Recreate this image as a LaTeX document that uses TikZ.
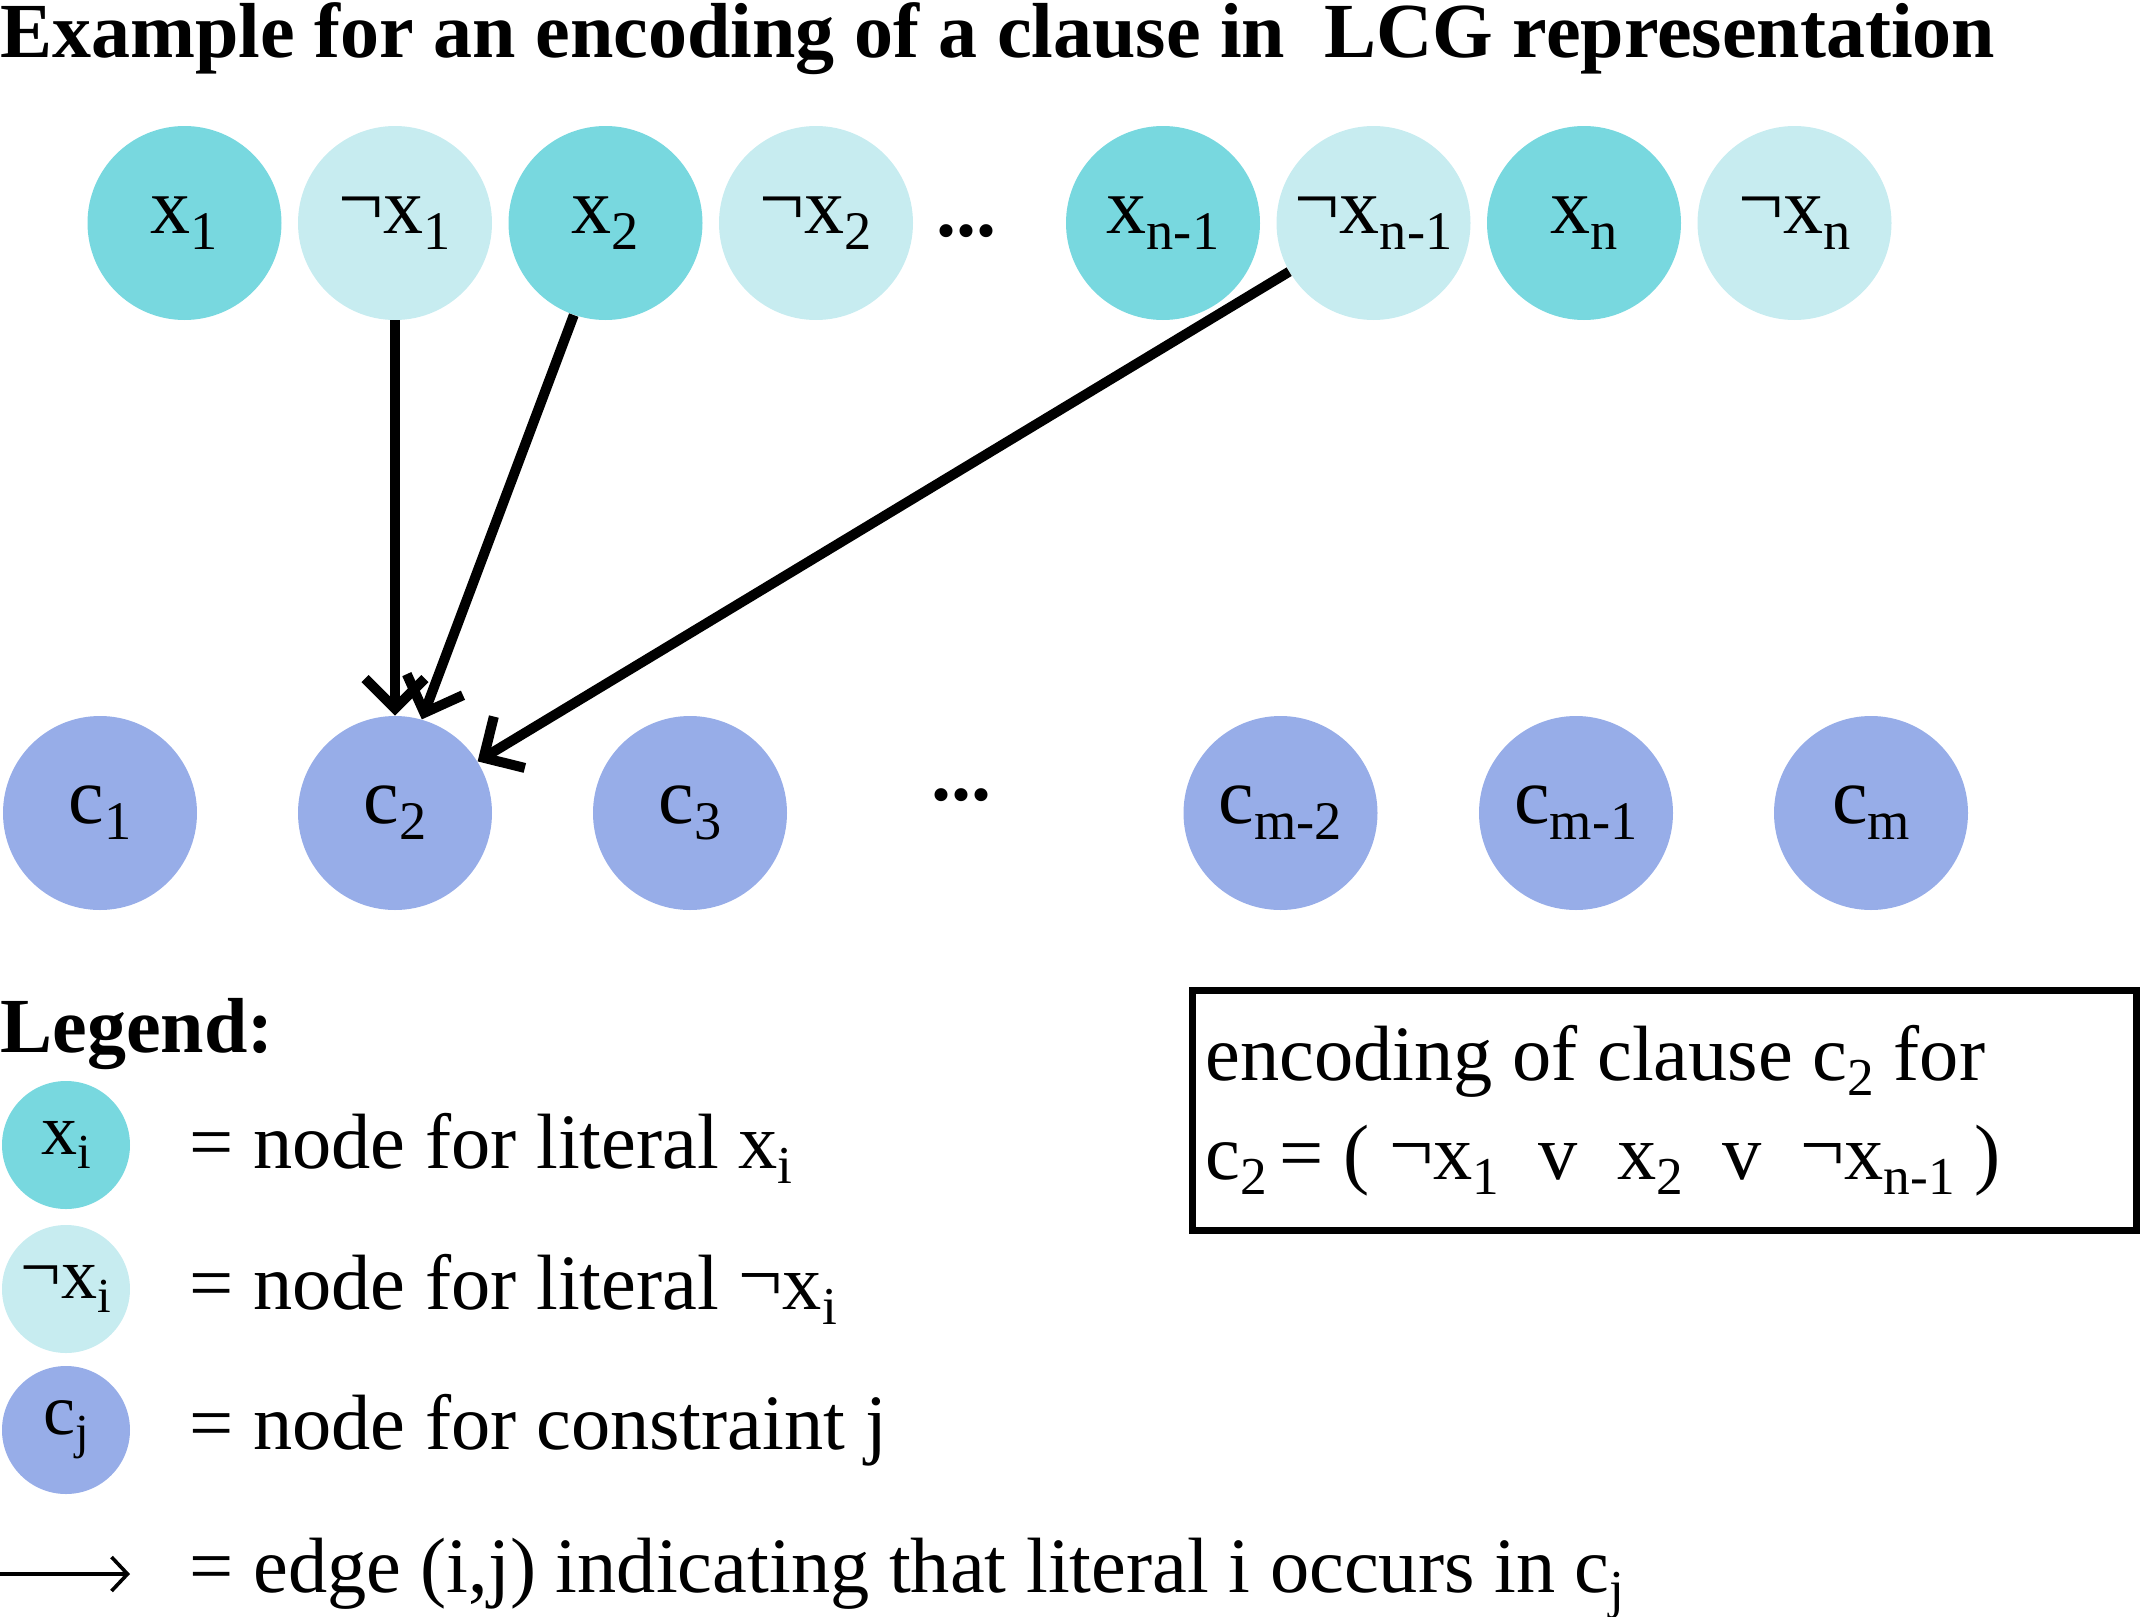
\documentclass[tikz,border=0pt]{standalone}
\usepackage{fontspec}
\setmainfont{Liberation Serif}
\usetikzlibrary{arrows.meta}
\definecolor{litpos}{RGB}{120,216,223}
\definecolor{litneg}{RGB}{199,236,240}
\definecolor{cons}{RGB}{151,173,232}
\newcommand\lowsub[1]{\raisebox{-0.2em}{\scalebox{0.68}{#1}}}
\newcommand\negsym{\raisebox{0.1em}{¬}}
\begin{document}
\begin{tikzpicture}[x=0.5pt,y=-0.5pt,
  litnode/.style={circle,inner sep=0pt,minimum size=97pt,font=\fontsize{40}{42}\selectfont},
  posnode/.style={litnode,fill=litpos},
  negnode/.style={litnode,fill=litneg},
  connode/.style={litnode,fill=cons},
  legc/.style={circle,inner sep=0pt,minimum size=64pt,font=\fontsize{36}{38}\selectfont},
  edgearrow/.style={line width=5pt,-{Straight Barb[length=15pt,width=30pt]}},
  txt/.style={anchor=base west,inner sep=0pt,font=\fontsize{39.2}{44}\selectfont},
  btxt/.style={anchor=base west,inner sep=0pt,font=\bfseries\fontsize{39}{42}\selectfont},
  dotsnode/.style={anchor=base,inner sep=0pt,font=\bfseries\fontsize{40}{44}\selectfont}]
\useasboundingbox (0,0) rectangle (2143,1617);
\node[btxt] (title) at (0,57) {Example for an encoding of a clause in\ \ LCG representation};
% literal nodes
\node[posnode] (x1) at (184.5,223) {x\lowsub{1}\hspace{14pt}};
\node[negnode] (nx1) at (395,223) {\negsym x\lowsub{1}\hspace{22pt}};
\node[posnode] (x2) at (605.5,223) {x\lowsub{2}\hspace{14pt}};
\node[negnode] (nx2) at (816,223) {\negsym x\lowsub{2}\hspace{22pt}};
\node[dotsnode] (tdots) at (966,236) {...};
\node[posnode] (xn1) at (1163,223) {x\lowsub{n-1}\hspace{14pt}};
\node[negnode] (nxn1) at (1373.5,223) {\negsym x\lowsub{n-1}\hspace{22pt}};
\node[posnode] (xn) at (1584,223) {x\lowsub{n}\hspace{14pt}};
\node[negnode] (nxn) at (1794.5,223) {\negsym x\lowsub{n}\hspace{22pt}};
% constraint nodes
\node[connode] (c1) at (100,813) {c\lowsub{1}\hspace{14pt}};
\node[connode] (c2) at (395,813) {c\lowsub{2}\hspace{14pt}};
\node[connode] (c3) at (690,813) {c\lowsub{3}\hspace{14pt}};
\node[dotsnode] (bdots) at (961,800) {...};
\node[connode] (cm2) at (1280.5,813) {c\lowsub{m-2}\hspace{14pt}};
\node[connode] (cm1) at (1576,813) {c\lowsub{m-1}\hspace{14pt}};
\node[connode] (cm) at (1871,813) {c\lowsub{m}\hspace{14pt}};
% edges
\draw[edgearrow] (nx1.south) -- (c2.north);
\draw[edgearrow] (x2.251) -- (c2.74);
\draw[edgearrow] (nxn1.210) -- (c2.32);
% legend
\node[btxt] (leg) at (0,1052) {Legend:};
\node[legc,fill=litpos] (lx) at (66,1145) {x\lowsub{i}\hspace{4pt}};
\node[legc,fill=litneg] (lnx) at (66,1289) {\negsym x\lowsub{i}\hspace{4pt}};
\node[legc,fill=cons] (lc) at (66,1430) {c\lowsub{j}\hspace{4pt}};
\coordinate (la) at (0,1574);
\coordinate (lb) at (130,1574);
\draw[line width=1.8pt,-{Straight Barb[length=8pt,width=17pt]}] (la) -- (lb);
\node[txt] (t1) at (189,1168) {= node for literal x\lowsub{i}};
\node[txt] (t2) at (189,1309) {= node for literal \negsym x\lowsub{i}};
\node[txt] (t3) at (189,1449) {= node for constraint j};
\node[txt] (t4) at (189,1592) {= edge (i,j) indicating that literal i occurs in c\lowsub{j}};
% box
\node[draw,line width=3.5pt,minimum width=472pt,minimum height=120pt,inner sep=0pt] (box) at (1664,1110.5) {};
\node[txt] (b1) at (1205,1080) {encoding of clause c\lowsub{2} for};
\node[txt] (b2) at (1205,1179) {c\lowsub{2}\,= ( \negsym x\lowsub{1}\ \ v\ \ x\lowsub{2}\ \ v\ \ \negsym x\lowsub{n-1} )};
\end{tikzpicture}
\end{document}
